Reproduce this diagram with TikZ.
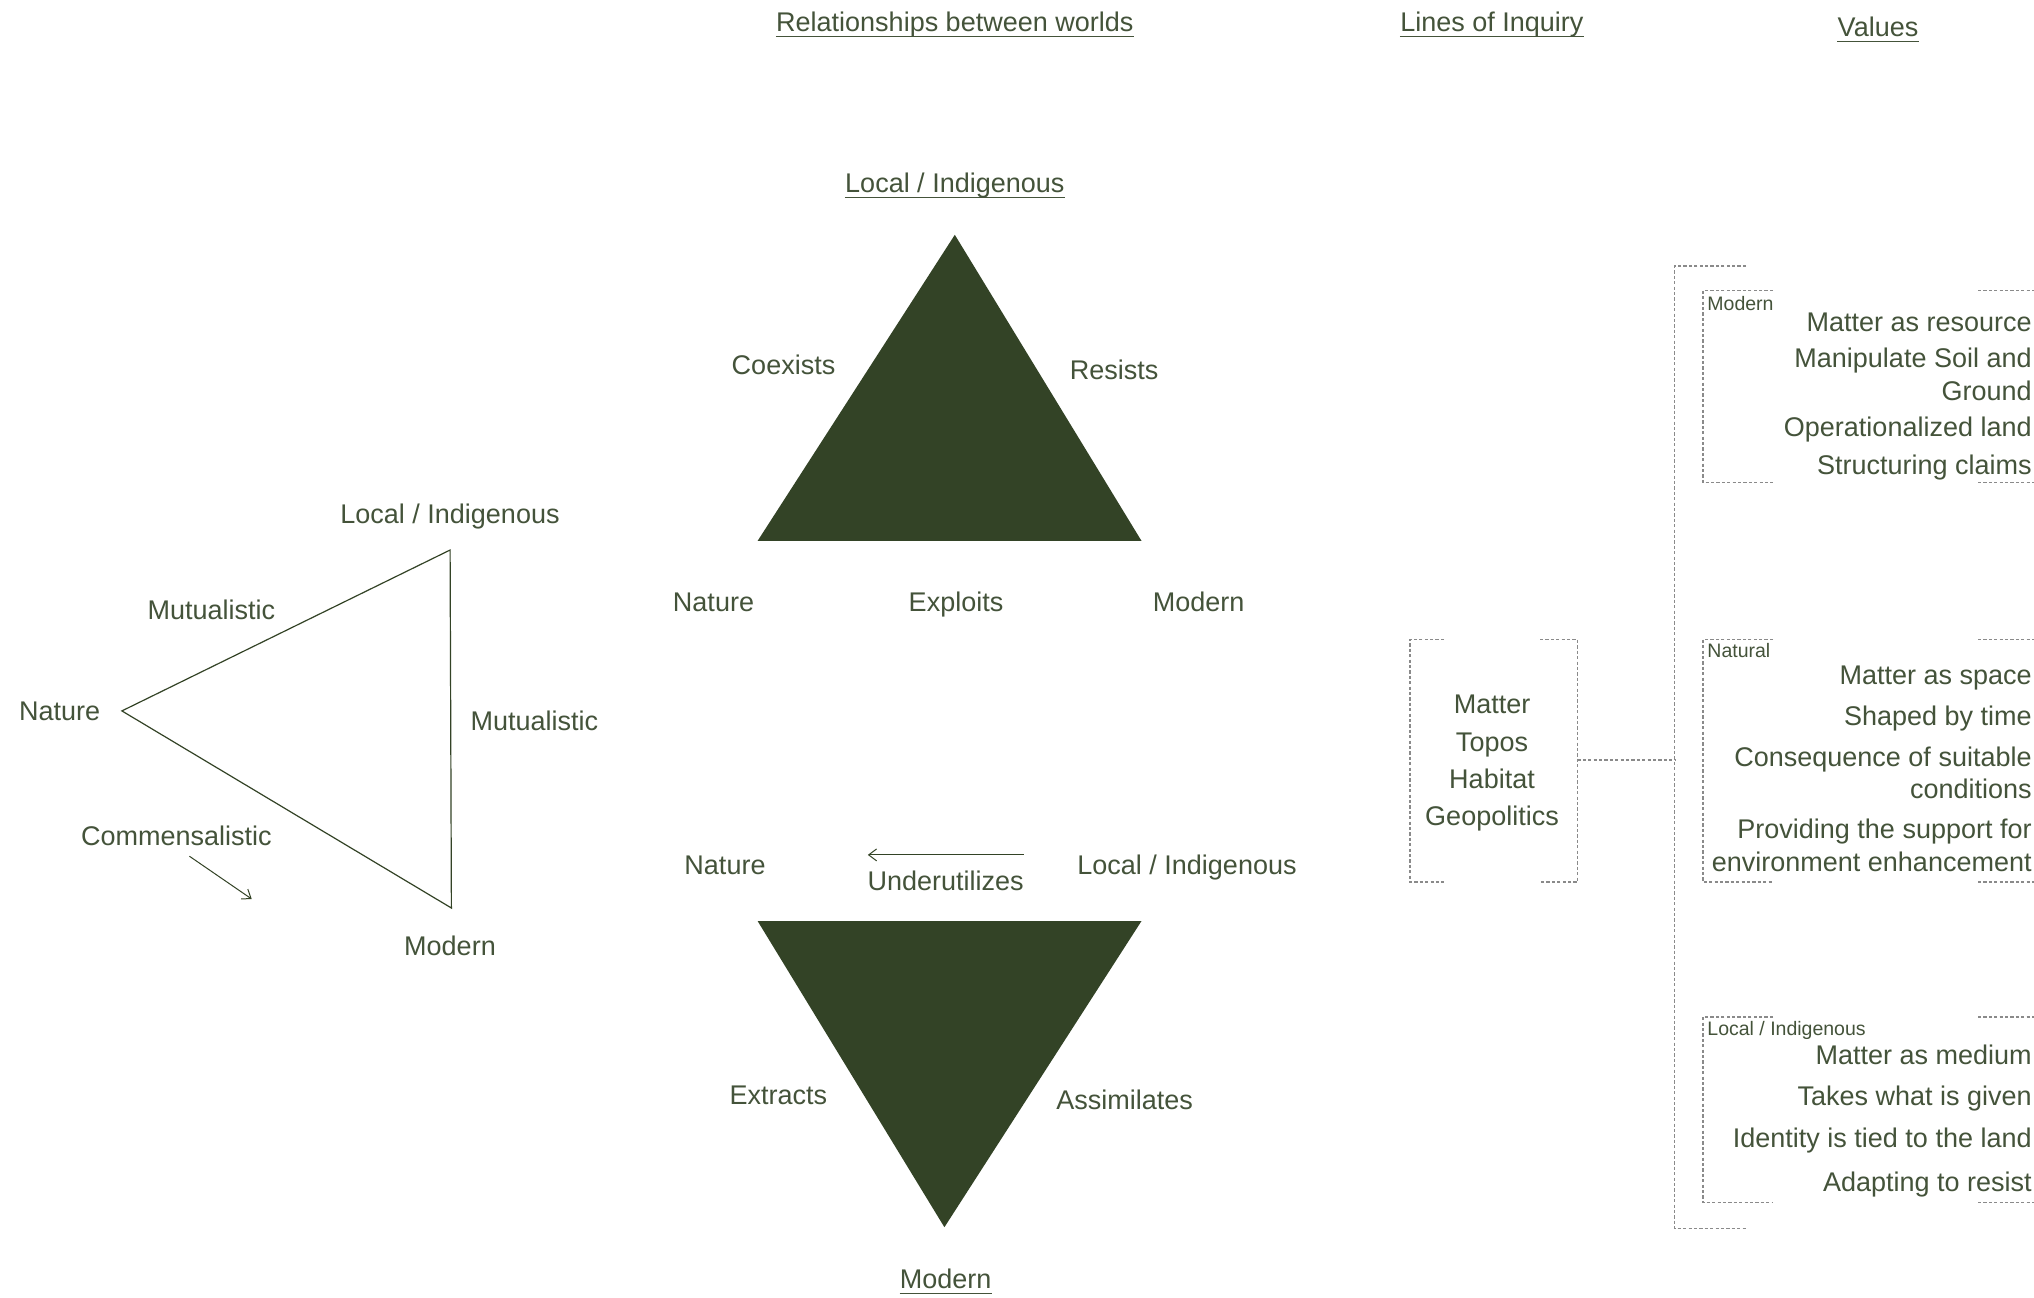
\documentclass[tikz,border=0pt]{standalone}
\usepackage{fontspec}
\setmainfont{Liberation Sans}
\usetikzlibrary{arrows.meta}
\definecolor{leaf}{HTML}{334326}
\definecolor{txt}{HTML}{44533A}
\definecolor{dashgray}{HTML}{8A8A8A}
\tikzset{
  lbl/.style={inner sep=0pt, text=txt, font=\fontsize{13.5}{16.25}\selectfont, anchor=mid, yshift=-2.2pt},
  small/.style={inner sep=0pt, text=txt, font=\fontsize{9.75}{11}\selectfont, anchor=mid west, yshift=-0.5pt},
  val/.style={inner sep=0pt, text=txt, font=\fontsize{13.5}{16.25}\selectfont, align=right, anchor=east},
  valm/.style={val, anchor=mid east, yshift=-2.2pt},
  dbox/.style={draw=dashgray, line width=0.55pt, dash pattern=on 1.6pt off 1.1pt},
  uline/.style={draw=txt, line width=0.55pt},
  thinedge/.style={draw=leaf, line width=0.6pt, line join=miter},
  arr/.style={draw=leaf, line width=0.5pt, -{Straight Barb[length=4pt,width=6pt]}}
}
\begin{document}
\begin{tikzpicture}[x=0.5pt,y=-0.5pt]
\useasboundingbox (0,0) rectangle (2034,1297);
\fill[white] (0,0) rectangle (2034,1297);

% ---------- titles ----------
\node[lbl] (tRel) at (954.8,22) {Relationships between worlds};
\node[lbl] (tLoi) at (1491.8,22) {Lines of Inquiry};
\node[lbl] (tVal) at (1878,27) {Values};
\foreach \n in {tRel,tLoi,tVal}{
  \draw[uline] ([yshift=-2.2pt]\n.base west) -- ([yshift=-2.2pt]\n.base east);
}

% ---------- left triangle ----------
\coordinate (LA) at (450.1,550);
\coordinate (LN) at (121.9,710.9);
\coordinate (LM) at (451.4,908);
\draw[thinedge] (LA) -- (LN) -- (LM) -- cycle;
\node[lbl] (lLI) at (450,513.7) {Local / Indigenous};
\node[lbl] (lMu1) at (211.4,609.7) {Mutualistic};
\node[lbl] (lNat) at (59.7,710.9) {Nature};
\node[lbl] (lMu2) at (534.4,721.2) {Mutualistic};
\node[lbl] (lCom) at (176.4,835.4) {Commensalistic};
\node[lbl] (lMod) at (450,945.7) {Modern};
\coordinate (ca) at (189.4,856.2);
\coordinate (cb) at (251.7,899);
\draw[arr] (ca) -- (cb);

% ---------- upper filled triangle ----------
\coordinate (TA) at (954.8,234.8);
\coordinate (TL) at (757.6,540.9);
\coordinate (TR) at (1141.5,540.9);
\fill[leaf] (TA) -- (TL) -- (TR) -- cycle;
\node[lbl] (uLI) at (954.8,183) {Local / Indigenous};
\draw[uline] ([yshift=-2.2pt]uLI.base west) -- ([yshift=-2.2pt]uLI.base east);
\node[lbl] (uCo) at (783.5,364.5) {Coexists};
\node[lbl] (uRe) at (1114,369.7) {Resists};
\node[lbl] (uNa) at (713.5,602) {Nature};
\node[lbl] (uEx) at (956,602) {Exploits};
\node[lbl] (uMo) at (1198.6,602) {Modern};

% ---------- lower filled triangle ----------
\node[lbl] (dNa) at (725,865) {Nature};
\node[lbl] (dUn) at (945.7,880.8) {Underutilizes};
\node[lbl] (dLI) at (1187,865) {Local / Indigenous};
\coordinate (ua) at (1023.5,854.9);
\coordinate (ub) at (867.8,854.9);
\draw[arr] (ua) -- (ub);
\coordinate (BL) at (757.6,921);
\coordinate (BR) at (1141.5,921);
\coordinate (BB) at (944.4,1227.2);
\fill[leaf] (BL) -- (BR) -- (BB) -- cycle;
\node[lbl] (dEx) at (778.3,1094.8) {Extracts};
\node[lbl] (dAs) at (1124.7,1100) {Assimilates};
\node[lbl] (dMo) at (945.7,1279) {Modern};
\draw[uline] ([yshift=-2.2pt]dMo.base west) -- ([yshift=-2.2pt]dMo.base east);

% ---------- lines of inquiry ----------
\draw[dbox] (1444,639.5) -- (1410,639.5) -- (1410,882) -- (1444,882);
\draw[dbox] (1540,639.5) -- (1577.4,639.5) -- (1577.4,882) -- (1540,882);
\node[lbl, anchor=center, yshift=-0.6pt, align=center, font=\fontsize{13.5}{18.6}\selectfont] (loi) at (1492,757.5)
  {Matter\\Topos\\Habitat\\Geopolitics};
\coordinate (loiR) at (1577.4,760);
\coordinate (brk) at (1674.7,760);
\draw[dbox] (loiR) -- (brk);

% ---------- values bracket ----------
\draw[dbox] (1746,266) -- (1674.7,266) -- (1674.7,1228.5) -- (1746,1228.5);

% Modern box
\draw[dbox] (1773,290.6) -- (1703,290.6) -- (1703,482.6) -- (1773,482.6);
\draw[dbox] (1978,290.6) -- (2036,290.6);
\draw[dbox] (1978,482.6) -- (2036,482.6);
\node[small] (sMod) at (1707,304) {Modern};
\node[valm] (m1) at (2032,321.7) {Matter as resource};
\node[val] (m2) at (2032,374.5) {Manipulate Soil and\\Ground};
\node[valm] (m3) at (2032,426.8) {Operationalized land};
\node[valm] (m4) at (2032,464.4) {Structuring claims};

% Natural box
\draw[dbox] (1773,639.5) -- (1703,639.5) -- (1703,882) -- (1773,882);
\draw[dbox] (1978,639.5) -- (2036,639.5);
\draw[dbox] (1978,882) -- (2036,882);
\node[small] (sNat) at (1707,651.5) {Natural};
\node[valm] (n1) at (2032,674.5) {Matter as space};
\node[valm] (n2) at (2032,716) {Shaped by time};
\node[val] (n3) at (2032,773) {Consequence of suitable\\conditions};
\node[val] (n4) at (2032,845.5) {Providing the support for\\environment enhancement};

% Local / Indigenous box
\draw[dbox] (1773,1017) -- (1703,1017) -- (1703,1202.5) -- (1773,1202.5);
\draw[dbox] (1978,1017) -- (2036,1017);
\draw[dbox] (1978,1202.5) -- (2036,1202.5);
\node[small] (sLoc) at (1707,1029.5) {Local / Indigenous};
\node[valm] (l1) at (2032,1054.6) {Matter as medium};
\node[valm] (l2) at (2032,1096) {Takes what is given};
\node[valm] (l3) at (2032,1137.6) {Identity is tied to the land};
\node[valm] (l4) at (2032,1181.7) {Adapting to resist};
\end{tikzpicture}
\end{document}
